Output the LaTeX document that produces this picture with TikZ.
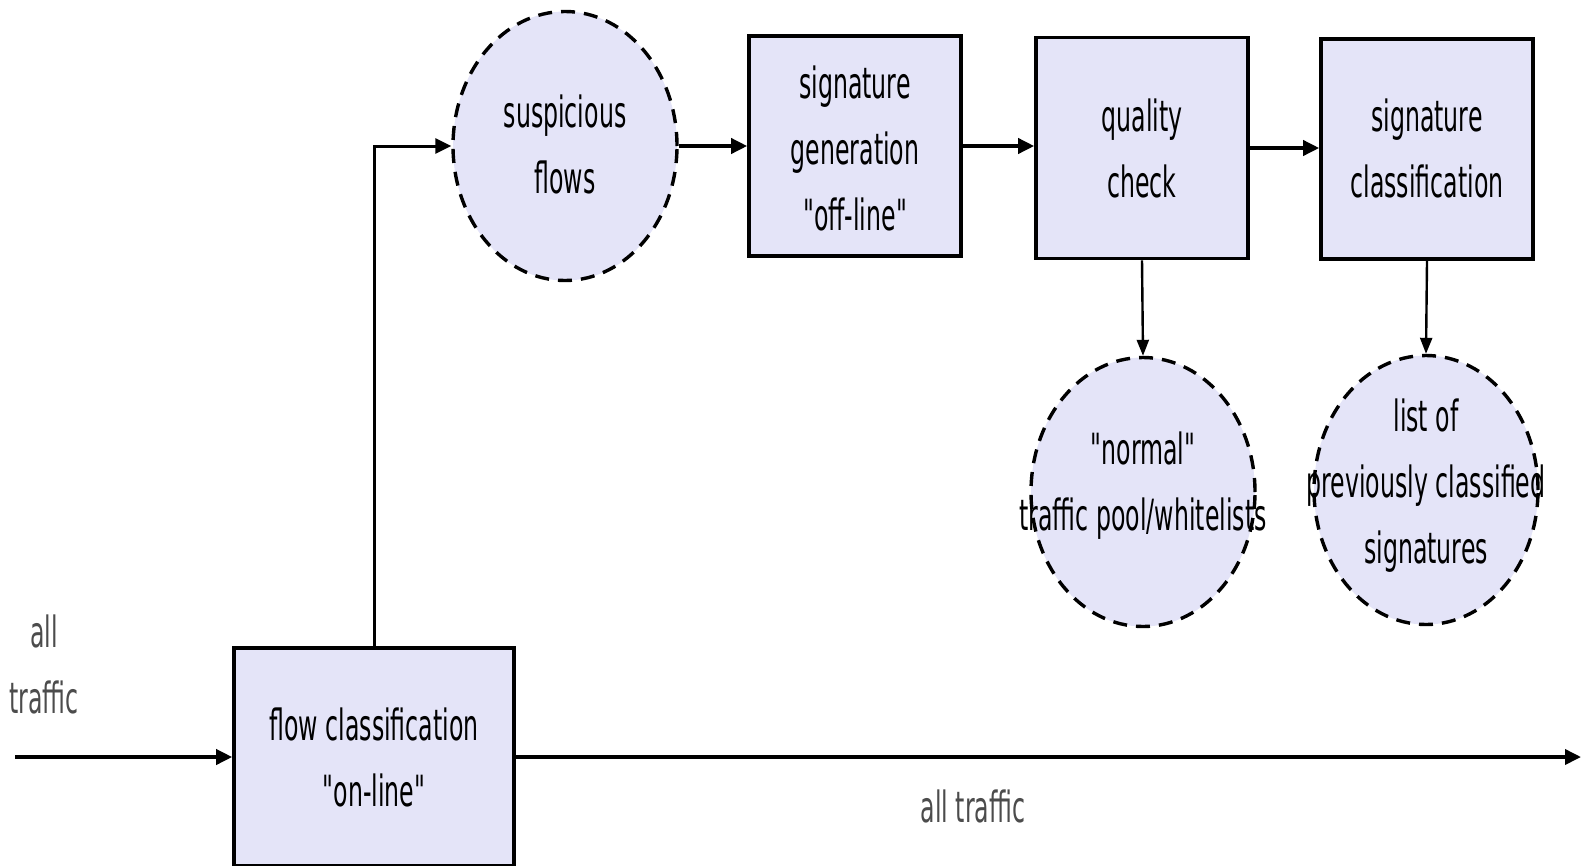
\documentclass[tikz,border=0pt]{standalone}
\usepackage{fontspec}
\setmainfont{DejaVu Sans}[FakeStretch=0.55,Ligatures=TeXOff]
\usetikzlibrary{shapes.geometric,arrows.meta}
\definecolor{lav}{RGB}{228,228,248}
\begin{document}
\begin{tikzpicture}[x=1pt,y=-1pt,
  every node/.style={font=\fontsize{43}{66}\selectfont},
  box/.style={draw,line width=3.6pt,fill=lav,rectangle,inner sep=0pt,align=center},
  blob/.style={draw,line width=3.4pt,fill=lav,ellipse,dash pattern=on 14pt off 9pt,inner sep=0pt,minimum width=224pt,minimum height=269pt},
  txt/.style={align=center,inner sep=0pt},
  gtxt/.style={align=center,inner sep=0pt,text=black!70},
  arr/.style={line width=3.6pt,-{Triangle[length=16pt,width=15pt]}},
  varr/.style={line width=2.4pt,-{Triangle[length=16pt,width=12pt]}}]
\useasboundingbox (0,0) rectangle (1581,865);
\node[box,minimum width=280pt,minimum height=218pt] (flow) at (374,757) {};
\node[txt] (flowt) at (374,757) {flow classification\\"on-line"};
\node[blob] (susp) at (565,146) {};
\node[txt] (suspt) at (565,144) {suspicious\\flows};
\node[box,minimum width=212pt,minimum height=220pt] (gen) at (855,146) {};
\node[txt] (gent) at (855,148) {signature\\generation\\"off-line"};
\node[box,minimum width=212pt,minimum height=221pt] (qual) at (1142,148) {};
\node[txt] (qualt) at (1142,148) {quality\\check};
\node[box,minimum width=212pt,minimum height=220pt] (cls) at (1427,149) {};
\node[txt] (clst) at (1427,148) {signature\\classification};
\node[blob] (norm) at (1143,492) {};
\node[txt] (normt) at (1143,486) {"normal"\\traffic pool/whitelists};
\node[blob] (list) at (1426,490) {};
\node[txt] (listt) at (1426,486) {list of\\previously classified\\signatures};
\node[gtxt] (lt) at (44,664) {all\\traffic};
\node[gtxt] (bt) at (973,806) {all traffic};
\coordinate (in) at (15,757);
\coordinate (out) at (1581,757);
\draw[arr] (in) -- (flow.west);
\draw[arr] (flow.east) -- (out);
\draw[line width=3pt,-{Triangle[length=16pt,width=15pt]}] (flow.north) |- (susp.west);
\draw[arr] (susp.east) -- (gen.west);
\draw[arr] (gen.east) -- (gen.east -| qual.west);
\draw[arr] (qual.east) -- (qual.east -| cls.west);
\draw[varr] (qual.south) -- (norm.north);
\draw[varr] (cls.south) -- (list.north);
\end{tikzpicture}
\end{document}
